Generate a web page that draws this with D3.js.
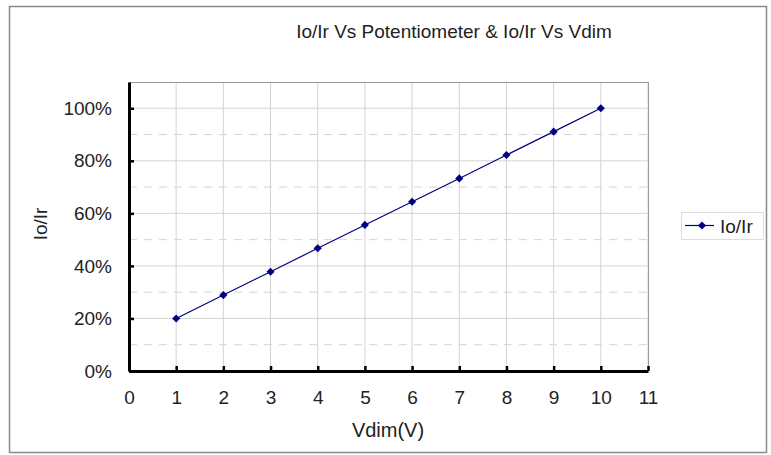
<!DOCTYPE html>
<html>
<head>
<meta charset="utf-8">
<script src="https://cdn.jsdelivr.net/npm/d3@7"></script>
<style>
  body { margin: 0; background: #fff; }
  svg text { font-family: "Liberation Sans", Arial, sans-serif; fill: #222; }
</style>
</head>
<body>
<div id="vis"></div>
<script>
// chart data
const VDIM = [1, 2, 3, 4, 5, 6, 7, 8, 9, 10];
const IO_IR = [0.20, 0.289, 0.378, 0.467, 0.556, 0.644, 0.733, 0.822, 0.911, 1.00];
const X_TICKS = [0, 1, 2, 3, 4, 5, 6, 7, 8, 9, 10, 11];
const Y_TICKS = [0, 0.2, 0.4, 0.6, 0.8, 1.0];
const Y_DASHED = [0.1, 0.3, 0.5, 0.7, 0.9];
const SERIES_NAME = "Io/Ir";

const WIDTH = 771;
const HEIGHT = 455;
const PLOT = {left: 129, right: 648, top: 82, bottom: 371};

const FRAME =
d3.select("#vis")
    .append("svg")
        .attr("width", WIDTH)
        .attr("height", HEIGHT);

// outer chart border
FRAME.append("rect")
    .attr("x", 9.5).attr("y", 6.5)
    .attr("width", 757).attr("height", 446)
    .attr("fill", "none")
    .attr("stroke", "#8a8a8a")
    .attr("stroke-width", 1.5);

const X_SCALE = d3.scaleLinear().domain([0, 11]).range([PLOT.left, PLOT.right]);
const Y_SCALE = d3.scaleLinear().domain([0, 1.1]).range([PLOT.bottom, PLOT.top]);

// vertical grid
FRAME.append("g").selectAll("line")
    .data(X_TICKS.slice(1))
    .enter().append("line")
        .attr("x1", d => X_SCALE(d)).attr("x2", d => X_SCALE(d))
        .attr("y1", PLOT.top).attr("y2", PLOT.bottom)
        .attr("stroke", "#d4d4d4");

// solid horizontal grid
FRAME.append("g").selectAll("line")
    .data(Y_TICKS.slice(1))
    .enter().append("line")
        .attr("x1", PLOT.left).attr("x2", PLOT.right)
        .attr("y1", d => Y_SCALE(d)).attr("y2", d => Y_SCALE(d))
        .attr("stroke", "#d4d4d4");

// dashed horizontal grid
FRAME.append("g").selectAll("line")
    .data(Y_DASHED)
    .enter().append("line")
        .attr("x1", PLOT.left).attr("x2", PLOT.right)
        .attr("y1", d => Y_SCALE(d)).attr("y2", d => Y_SCALE(d))
        .attr("stroke", "#d4d4d4")
        .attr("stroke-dasharray", "8,7");

// top and right border of plot
FRAME.append("path")
    .attr("d", "M" + PLOT.left + "," + (PLOT.top + 0.5) + "H" + (PLOT.right + 0.5) + "V" + PLOT.bottom)
    .attr("fill", "none")
    .attr("stroke", "#999");

// axes
const xAxis = FRAME.append("g")
    .attr("transform", "translate(0," + PLOT.bottom + ")")
    .call(d3.axisBottom(X_SCALE).tickValues(X_TICKS).tickSizeInner(-5).tickSizeOuter(0).tickPadding(20));
xAxis.select(".domain").attr("stroke", "#000").attr("stroke-width", 3);
xAxis.selectAll(".tick line").attr("stroke", "#000").attr("stroke-width", 2.5);
xAxis.selectAll("text").attr("font-size", "19px").attr("fill", "#222")
    .attr("font-family", "Liberation Sans, Arial, sans-serif");

const yAxis = FRAME.append("g")
    .attr("transform", "translate(" + PLOT.left + ",0)")
    .call(d3.axisLeft(Y_SCALE).tickValues(Y_TICKS).tickFormat(d3.format(".0%")).tickSizeInner(-5).tickSizeOuter(0).tickPadding(17));
yAxis.select(".domain").attr("stroke", "#000").attr("stroke-width", 3);
yAxis.selectAll(".tick line").attr("stroke", "#000").attr("stroke-width", 2.5);
yAxis.selectAll("text").attr("font-size", "19px").attr("fill", "#222")
    .attr("font-family", "Liberation Sans, Arial, sans-serif");

// line and markers
const line = d3.line()
    .x((d, i) => X_SCALE(VDIM[i]))
    .y(d => Y_SCALE(d));

FRAME.append("path")
    .datum(IO_IR)
    .attr("d", line)
    .attr("fill", "none")
    .attr("stroke", "#000080")
    .attr("stroke-width", 1.2);

const diamond = d3.symbol().type(d3.symbolDiamond2).size(42);
FRAME.append("g").selectAll("path")
    .data(IO_IR)
    .enter().append("path")
        .attr("transform", (d, i) => "translate(" + X_SCALE(VDIM[i]) + "," + Y_SCALE(d) + ")")
        .attr("d", diamond)
        .attr("fill", "#000080");

// title and axis labels
FRAME.append("text")
    .attr("x", 454).attr("y", 38)
    .attr("text-anchor", "middle")
    .attr("font-size", "19px")
    .text("Io/Ir Vs Potentiometer & Io/Ir Vs Vdim");

FRAME.append("text")
    .attr("x", 388).attr("y", 437)
    .attr("text-anchor", "middle")
    .attr("font-size", "20px")
    .text("Vdim(V)");

FRAME.append("text")
    .attr("transform", "translate(47,224) rotate(-90)")
    .attr("text-anchor", "middle")
    .attr("font-size", "19px")
    .text("Io/Ir");

// legend
const LEG = FRAME.append("g").attr("transform", "translate(681,212)");
LEG.append("rect")
    .attr("x", 0.5).attr("y", 0.5)
    .attr("width", 82).attr("height", 27)
    .attr("fill", "#fff")
    .attr("stroke", "#ddd");
LEG.append("line")
    .attr("x1", 4).attr("x2", 33).attr("y1", 13.5).attr("y2", 13.5)
    .attr("stroke", "#000080").attr("stroke-width", 1.2);
LEG.append("path")
    .attr("transform", "translate(21,13.5)")
    .attr("d", diamond)
    .attr("fill", "#000080");
LEG.append("text")
    .attr("x", 39).attr("y", 21)
    .attr("font-size", "19px")
    .text(SERIES_NAME);
</script>
</body>
</html>
